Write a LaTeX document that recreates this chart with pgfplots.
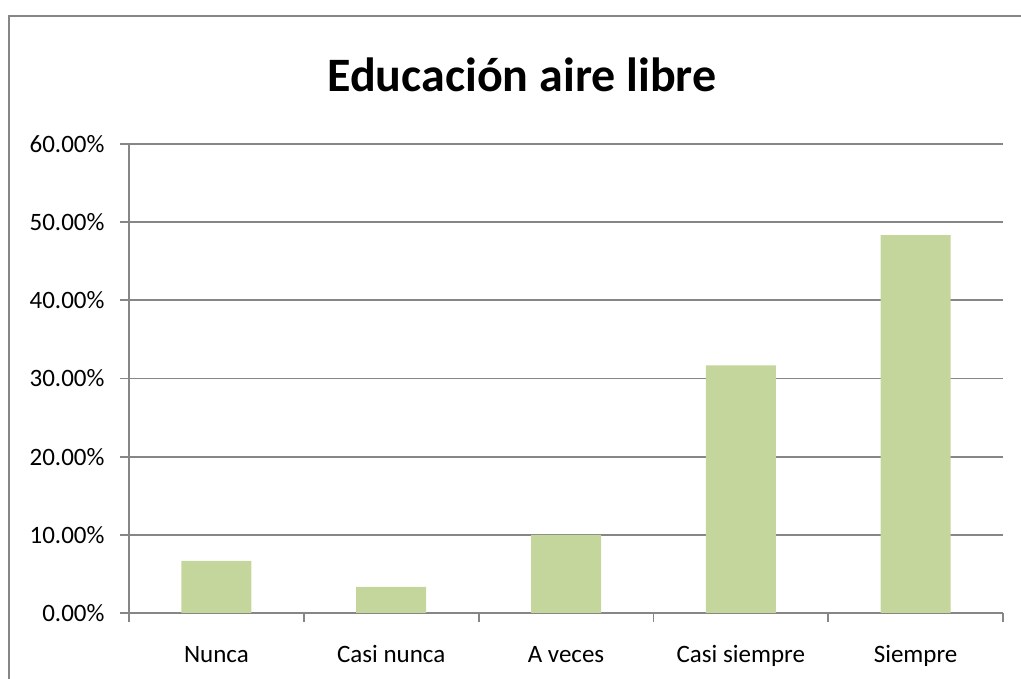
\documentclass[border=0pt]{standalone}
\usepackage{pgfplots}
\pgfplotsset{compat=1.18}
\usepackage{fontspec}
\setmainfont{Carlito}
\definecolor{barg}{HTML}{C4D69C}
\definecolor{gridg}{HTML}{868686}
\pgfplotstableread{
x y
0 6.67
1 3.33
2 10.00
3 31.67
4 48.33
}\datatable
\begin{document}
\begin{tikzpicture}[x=1bp,y=1bp]
\useasboundingbox (0,0) rectangle (1021,679);
\draw[gridg, line width=1.8bp] (9,0) -- (9,663) -- (1025,663);
\node[font=\fontsize{48bp}{54bp}\selectfont\bfseries] at (522,604) {Educación aire libre};
\begin{axis}[
  at={(129bp,66bp)}, anchor=south west,
  scale only axis,
  width=874bp, height=469bp,
  xmin=-0.5, xmax=4.5,
  ymin=0, ymax=60,
  axis x line*=bottom, axis y line*=left,
  axis line style={gridg, line width=1.8bp, -},
  ymajorgrids,
  grid style={gridg, line width=1.8bp},
  ytick={0,10,...,60},
  xtick={0,1,2,3,4},
  xticklabels={Nunca, Casi nunca, A veces, Casi siempre, Siempre},
  minor xtick={-0.5,0.5,1.5,2.5,3.5,4.5},
  major x tick style={draw=none},
  minor tick length=9bp,
  major tick length=9bp,
  tick align=outside,
  tick style={gridg, line width=1.8bp},
  /pgf/number format/assume math mode=true,
  yticklabel={\pgfmathprintnumber[fixed,fixed zerofill,precision=2]{\tick}\%},
  ticklabel style={font=\fontsize{25bp}{29bp}\selectfont, text=black},
  yticklabel style={xshift=-12bp},
  xticklabel style={yshift=-20bp, text height=17bp, text depth=5bp},
  ybar, bar width=70bp,
]
\addplot[fill=barg, draw=none, bar shift=0pt] table[x=x,y=y] {\datatable};
\end{axis}
\end{tikzpicture}
\end{document}
